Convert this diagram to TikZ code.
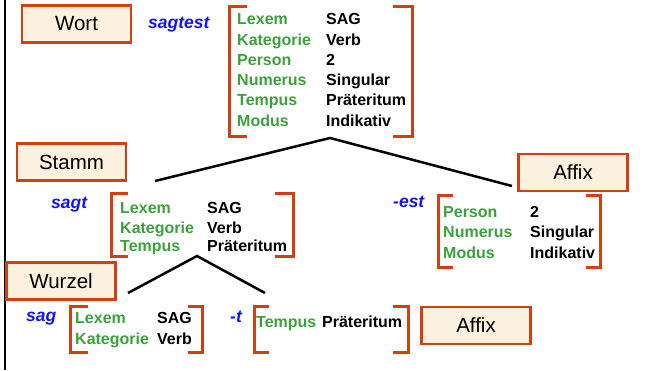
\documentclass[tikz,border=0pt]{standalone}
\usepackage{fontspec}
\setmainfont{Liberation Sans}
\definecolor{frame-red}{RGB}{208, 64, 16}
\definecolor{box-cream}{RGB}{252, 240, 222}
\definecolor{feat-green}{RGB}{60, 160, 60}
\definecolor{word-blue}{RGB}{20, 20, 240}
\begin{document}
\begin{tikzpicture}[x=1pt, y=-1pt,
  box/.style={draw=frame-red, fill=box-cream, line width=2.5pt, minimum width=109pt, minimum height=37pt, inner sep=0pt, font=\fontsize{20.5}{24}\selectfont},
  attr/.style={anchor=base west, inner sep=0pt, text=feat-green, font=\bfseries\fontsize{16}{19}\selectfont},
  val/.style={anchor=base west, inner sep=0pt, font=\bfseries\fontsize{16}{19}\selectfont},
  form/.style={anchor=base west, inner sep=0pt, text=word-blue, font=\bfseries\itshape\fontsize{17.5}{20}\selectfont},
  brack/.style={draw=frame-red, line width=3pt},
  branch/.style={draw=black, line width=2.5pt}]
\useasboundingbox (0,0) rectangle (648,370);
\draw[line width=2.5pt] (5,0) -- (5,370);

% word level
\node[box] (wort) at (76.5,24) {Wort};
\node[form] (sagtest) at (148,28) {sagtest};
\draw[brack] (247,6) -| (229,136) -- (247,136);
\draw[brack] (393,6) -| (412,136) -- (393,136);
\foreach \y/\a/\v in {24/Lexem/SAG, 45/Kategorie/Verb, 65/Person/2, 85/Numerus/Singular, 105/Tempus/Präteritum, 126/Modus/Indikativ} {
  \node[attr] (wort-a\y) at (237,\y) {\a};
  \node[val] (wort-v\y) at (326,\y) {\v};
}

% stem and affix
\node[box] (stamm) at (71.5,162) {Stamm};
\node[form] (sagt) at (51,208) {sagt};
\draw[brack] (128,193) -| (111,256) -- (128,256);
\draw[brack] (275,193) -| (293,256) -- (275,256);
\foreach \y/\a/\v in {213/Lexem/SAG, 233/Kategorie/Verb, 251/Tempus/Präteritum} {
  \node[attr] (stamm-a\y) at (120,\y) {\a};
  \node[val] (stamm-v\y) at (207,\y) {\v};
}

\node[box] (affix) at (573,172.5) {Affix};
\node[form] (est) at (393,207) {-est};
\draw[brack] (453,195) -| (438,267) -- (453,267);
\draw[brack] (586,195) -| (600,267) -- (586,267);
\foreach \y/\a/\v in {217/Person/2, 237/Numerus/Singular, 258/Modus/Indikativ} {
  \node[attr] (affix-a\y) at (443,\y) {\a};
  \node[val] (affix-v\y) at (530,\y) {\v};
}

% root and suffix
\node[box] (wurzel) at (61,281) {Wurzel};
\node[form] (sag) at (26,321) {sag};
\draw[brack] (88,306) -| (70,352) -- (88,352);
\draw[brack] (188,306) -| (202,352) -- (188,352);
\foreach \y/\a/\v in {323/Lexem/SAG, 344/Kategorie/Verb} {
  \node[attr] (wurzel-a\y) at (75,\y) {\a};
  \node[val] (wurzel-v\y) at (157,\y) {\v};
}

\node[form] (t) at (230,322) {-t};
\draw[brack] (269,306) -| (254,352) -- (269,352);
\draw[brack] (393,306) -| (408,352) -- (393,352);
\node[attr] (t-a) at (256,327) {Tempus};
\node[val] (t-v) at (322,327) {Präteritum};
\node[box] (affix2) at (476,325.5) {Affix};

% tree lines
\coordinate (top-apex) at (330,138);
\coordinate (stamm-end) at (155,181);
\coordinate (affix-end) at (512,186);
\coordinate (low-apex) at (197,256);
\coordinate (wurzel-end) at (128,293);
\coordinate (t-end) at (265,293);
\draw[branch] (stamm-end) -- (top-apex) -- (affix-end);
\draw[branch] (wurzel-end) -- (low-apex) -- (t-end);
\end{tikzpicture}
\end{document}
